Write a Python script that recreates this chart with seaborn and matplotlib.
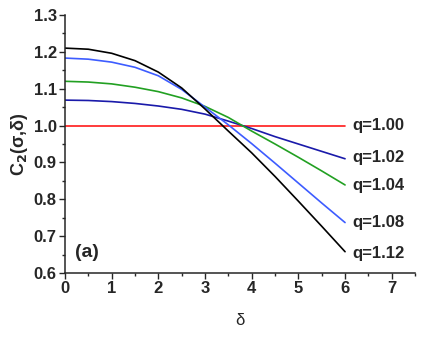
import pandas as pd
import seaborn as sns
import matplotlib.pyplot as plt
from matplotlib.ticker import MultipleLocator

delta = [0, 0.5, 1, 1.5, 2, 2.5, 3, 3.5, 4, 4.5, 5, 5.5, 6]
c2_100 = [1.0] * 13
c2_102 = [1.069, 1.068, 1.065, 1.060, 1.053, 1.044, 1.031, 1.012, 0.992, 0.970, 0.950, 0.930, 0.910]
c2_104 = [1.120, 1.118, 1.113, 1.104, 1.092, 1.075, 1.052, 1.022, 0.985, 0.950, 0.914, 0.877, 0.839]
c2_108 = [1.183, 1.180, 1.172, 1.158, 1.135, 1.098, 1.050, 1.002, 0.951, 0.898, 0.844, 0.790, 0.737]
c2_112 = [1.210, 1.207, 1.196, 1.176, 1.145, 1.102, 1.045, 0.985, 0.926, 0.862, 0.795, 0.727, 0.658]
q_labels = ['q=1.00', 'q=1.02', 'q=1.04', 'q=1.08', 'q=1.12']
colors = ['#ff1a1a', '#1a1aaa', '#22a022', '#3d5cff', '#000000']

curves = [c2_100, c2_102, c2_104, c2_108, c2_112]
df = pd.concat([pd.DataFrame({'delta': delta, 'C2': c, 'q': q})
                for c, q in zip(curves, q_labels)])

sns.set_style('ticks')
plt.rcParams['font.family'] = ['Liberation Sans', 'DejaVu Sans']

fig = plt.figure(figsize=(4.36, 3.47), dpi=100)
ax = fig.add_axes([0.149, 0.213, 0.803, 0.744])
sns.lineplot(data=df, x='delta', y='C2', hue='q', palette=colors, linewidth=1.2,
             legend=False, ax=ax)

# curve labels at the right end
label_y = [1.0, 0.913, 0.837, 0.737, 0.653]
for q, y in zip(q_labels, label_y):
    ax.text(6.15, y, q, fontsize=12, fontweight='bold', va='center', ha='left')
ax.text(0.22, 0.655, '(a)', fontsize=14, fontweight='bold', va='center', ha='left')

ax.set_xlim(0, 7.5)
ax.set_ylim(0.6, 1.3)
ax.xaxis.set_major_locator(MultipleLocator(1))
ax.xaxis.set_minor_locator(MultipleLocator(0.5))
ax.yaxis.set_major_locator(MultipleLocator(0.1))
ax.yaxis.set_minor_locator(MultipleLocator(0.05))
ax.yaxis.set_major_formatter(plt.FormatStrFormatter('%.1f'))
ax.tick_params(which='both', direction='out', width=1)
ax.tick_params(which='major', length=4, labelsize=12, pad=2)
ax.tick_params(which='minor', length=2.5)
for lab in ax.get_xticklabels() + ax.get_yticklabels():
    lab.set_fontweight('bold')
sns.despine(ax=ax)
for s in ['left', 'bottom']:
    ax.spines[s].set_linewidth(1.1)

ax.set_xlabel('δ', fontsize=12, labelpad=12)
ax.set_ylabel('C$_\\mathbf{2}$(σ,δ)', fontsize=13, fontweight='bold')
ax.yaxis.set_label_coords(-0.1, 0.5)

fig.savefig('out.png', dpi=100)
